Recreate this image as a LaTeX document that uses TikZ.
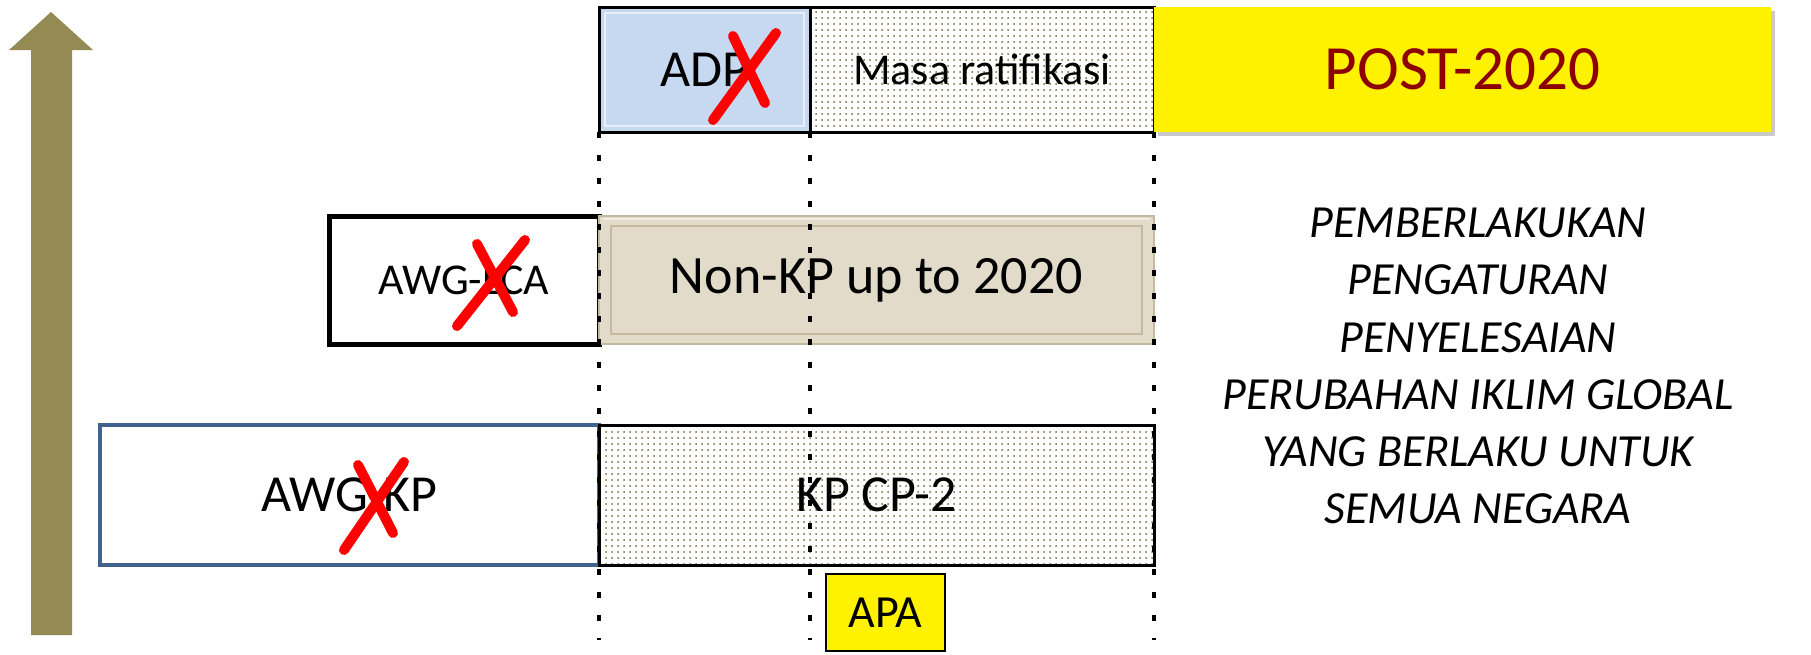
\documentclass[tikz,border=0pt]{standalone}
\usepackage{fontspec}
\setmainfont{Carlito}
\usetikzlibrary{positioning,patterns,shadows}

\definecolor{arrowolive}{RGB}{148,138,84}
\definecolor{dotolive}{RGB}{115,100,55}
\definecolor{adpblue}{RGB}{198,217,241}
\definecolor{kpblue}{RGB}{65,98,143}
\definecolor{beige}{RGB}{226,219,202}
\definecolor{beigedark}{RGB}{196,186,160}
\definecolor{postred}{RGB}{140,0,0}

\begin{document}
\begin{tikzpicture}[
    x=0.5pt, y=-0.5pt,
    block/.style={rectangle, draw, line width=1.5pt, inner sep=0pt, outer sep=0pt, align=center},
    dotbox/.style={block, preaction={fill=white}, pattern=dots, pattern color=dotolive},
    adpbox/.style={block, fill=adpblue, minimum width=105.5pt, minimum height=62.5pt, font=\fontsize{26}{30}\selectfont},
    postbox/.style={block, draw=none, fill=yellow, text=postred, minimum width=308.5pt, minimum height=62.5pt,
        drop shadow={shadow xshift=2pt, shadow yshift=-2pt, opacity=0.35, fill=black!60}, font=\fontsize{31.5}{36}\selectfont},
    lcabox/.style={block, line width=2.5pt, fill=white, minimum width=135pt, minimum height=64pt, font=\fontsize{22}{26}\selectfont},
    nonkpbox/.style={block, draw=beigedark, line width=0.8pt, fill=beige, minimum width=277.5pt, minimum height=64pt, font=\fontsize{27}{32}\selectfont},
    kpbox/.style={block, draw=kpblue, line width=2pt, fill=white, minimum width=249.5pt, minimum height=70pt, font=\fontsize{26}{30}\selectfont},
    apabox/.style={block, line width=1pt, fill=yellow, minimum width=59.5pt, minimum height=38.5pt, font=\fontsize{23}{27}\selectfont},
    guide/.style={line width=2pt, dash pattern=on 3pt off 8.5pt},
    cross/.style={red, line width=5pt, line cap=round}
]

% Upward arrow
\fill[arrowolive] (31,635) -- (31,50) -- (9,50) -- (51,12) -- (93,50) -- (72,50) -- (72,635) -- cycle;

% Top row
\node[adpbox] (adp) at (704.5,69.5) {ADP};
\node[dotbox, right=0pt of adp, minimum width=172pt, minimum height=62.5pt, font=\fontsize{22}{26}\selectfont] (masa) {Masa ratifikasi};
\node[postbox, right=0pt of masa] (post) {POST-2020};
\draw[white, line width=1pt, opacity=0.6] ([shift={(6,6)}]adp.north west) rectangle ([shift={(-6,-6)}]adp.south east);

% Middle row
\node[lcabox] (lca) at (464,280) {AWG-LCA};
\node[nonkpbox, right=0pt of lca] (nonkp) {Non-KP up to 2020};
\draw[beigedark, line width=0.8pt] ([shift={(12,10)}]nonkp.north west) rectangle ([shift={(-12,-10)}]nonkp.south east);
\draw[white, line width=1pt, opacity=0.5] ([shift={(4,3)}]nonkp.north west) -- ([shift={(-4,3)}]nonkp.north east);

% Bottom row
\node[kpbox] (awgkp) at (349.5,495) {AWG-KP};
\node[dotbox, right=0pt of awgkp, minimum width=277.5pt, minimum height=70pt, font=\fontsize{26}{30}\selectfont] (kpcp) {KP CP-2};
\node[apabox, below=4.5pt of kpcp, xshift=4.5pt] (apa) {APA};

% Goal text
\node[align=center, inner sep=0pt, font=\itshape\fontsize{23}{28.6}\selectfont] (goal) at (1478,366)
    {PEMBERLAKUKAN\\PENGATURAN\\PENYELESAIAN\\PERUBAHAN IKLIM GLOBAL\\YANG BERLAKU UNTUK\\SEMUA NEGARA};

% Guide lines
\coordinate (bottom) at (0,640);
\draw[guide] (adp.south west) -- (adp.south west |- bottom);
\draw[guide] (adp.south east) -- (adp.south east |- bottom);
\draw[guide] (masa.south east) -- (masa.south east |- bottom);

% Red crosses
\draw[cross] (733,36) -- (765,103);
\draw[cross] (776,33) -- (713,120);
\draw[cross] (477,244) -- (513,312);
\draw[cross] (525,240) -- (457,326);
\draw[cross] (358,465) -- (393,533);
\draw[cross] (404,462) -- (344,550);

\useasboundingbox (0,0) rectangle (1811,654);
\end{tikzpicture}
\end{document}
